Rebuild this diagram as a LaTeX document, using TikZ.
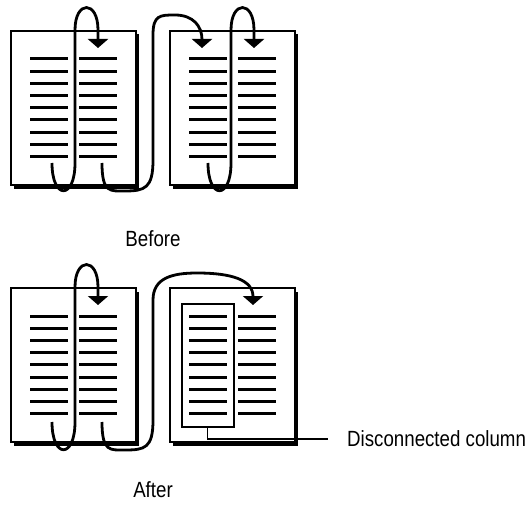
\documentclass[tikz,border=0pt]{standalone}
\usepackage{fontspec}
\setmainfont{Liberation Sans}[FakeStretch=0.85]
\usetikzlibrary{calc, positioning, shadows, arrows.meta}

\newcommand\colrules[1]{%
  \foreach \i in {0,...,8}{%
    \draw[rule] ($(#1.north west)+(19,28+12.2*\i)$) -- +(38,0);
    \draw[rule] ($(#1.north west)+(68,28+12.2*\i)$) -- +(38,0);
  }}
\newcommand\colloop[2]{%
  \draw[flow] (#1) .. controls +(0,37) and +(0,37) .. ($(#1)+(23,0)$)
    -- ($(#2)+(-23,-18)$) .. controls +(0,-30) and +(0,-30) .. ($(#2)+(0,-18)$) -- (#2);}

\begin{document}
\begin{tikzpicture}[
          x=1pt, y=-1pt,
          page/.style={draw, line width=1.5pt, fill=white, minimum width=125pt, minimum height=154pt,
            inner sep=0pt, outer sep=0pt,
            drop shadow={shadow xshift=3pt, shadow yshift=-3.5pt, fill=black, opacity=1}},
          rule/.style={line width=3pt},
          flow/.style={-{Triangle[width=20pt,length=9pt]}, line width=2.8pt},
          lbl/.style={font=\fontsize{22}{26}\selectfont, inner sep=0pt}
        ]
          \useasboundingbox (0,0) rectangle (532,505);

          \node[page] (pgB1) at (73.5,108) {};
          \node[page, right=34pt of pgB1] (pgB2) {};
          \node[page, below=103pt of pgB1] (pgA1) {};
          \node[page, right=34pt of pgA1] (pgA2) {};

          \colrules{pgB1}
          \colrules{pgB2}
          \colrules{pgA1}
          \colrules{pgA2}

          \node[draw, line width=1.5pt, minimum width=52pt, minimum height=123pt, inner sep=0pt,
            anchor=north west] (disc) at ($(pgA2.north west)+(11,15)$) {};

          \node[lbl] (before) at (153,239) {Before};
          \node[lbl] (after) at (153,490) {After};
          \node[lbl, anchor=west] (note) at (347,439) {Disconnected column};

          \coordinate (b1ls) at (52,163);
          \coordinate (b1le) at (98,48);
          \coordinate (b1rs) at (102,163);
          \coordinate (b2je) at (202,48);
          \coordinate (b2ls) at (208,163);
          \coordinate (b2le) at (254,48);
          \coordinate (a1ls) at (52,422);
          \coordinate (a1le) at (98,305);
          \coordinate (a1rs) at (102,422);
          \coordinate (a2je) at (253,305);

          \colloop{b1ls}{b1le}
          \colloop{b2ls}{b2le}
          \colloop{a1ls}{a1le}

          \draw[flow] (b1rs) .. controls +(0,30) and +(-15,0) .. (125,191)
            .. controls +(20,0) and +(0,28) .. (153,160) -- (153,35)
            .. controls +(0,-20) and +(-15,0) .. (175,15)
            .. controls +(18,0) and +(0,-22) .. (b2je);
          \draw[flow] (a1rs) .. controls +(0,30) and +(-15,0) .. (125,450)
            .. controls +(20,0) and +(0,28) .. (153,420) -- (153,300)
            .. controls +(0,-22) and +(-25,0) .. (197,273)
            .. controls +(35,0) and +(0,-25) .. (a2je);

          \draw[line width=1.2pt] (disc.south) |- ([xshift=-19pt]note.west);
        \end{tikzpicture}
\end{document}
